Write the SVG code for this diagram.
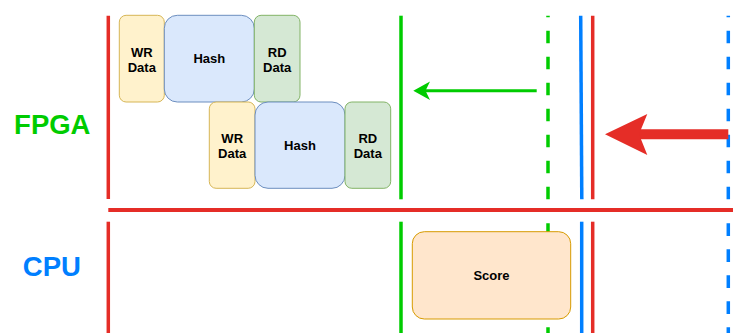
<svg xmlns="http://www.w3.org/2000/svg" width="733" height="333" viewBox="0 0 733 333">
  <style>
    text { font-family: "Liberation Sans", Arial, sans-serif; font-weight: bold; text-anchor: middle; }
    .box { font-size: 13px; fill: #000; }
    .wr { fill: #fff2cc; stroke: #d6b656; stroke-width: 1; }
    .hash { fill: #dae8fc; stroke: #6c8ebf; stroke-width: 1; }
    .rd { fill: #d5e8d4; stroke: #82b366; stroke-width: 1; }
    .score { fill: #ffe6cc; stroke: #d79b00; stroke-width: 1; }
    .red { stroke: #e52d27; fill: none; }
    .green { stroke: #00cc00; fill: none; }
    .blue { stroke: #007fff; fill: none; }
    .v { stroke-width: 3.5; }
    .dash { stroke-dasharray: 12.6 13.4; }
  </style>

  <!-- lane labels -->
  <g id="label-fpga"><text x="52.3" y="134.3" font-size="27.5" fill="#00cc00">FPGA</text></g>
  <g id="label-cpu"><text x="51.8" y="275.7" font-size="27.5" fill="#007fff">CPU</text></g>

  <g id="connectors">
    <!-- timeline markers, FPGA lane -->
    <line class="red v" x1="108.3" y1="15.7" x2="108.3" y2="199"/>
    <line class="green v" x1="401" y1="15.7" x2="401" y2="199.3"/>
    <line class="green v dash" x1="548" y1="15.7" x2="548" y2="199.3" stroke-dashoffset="11"/>
    <line class="blue v" x1="580.7" y1="15.7" x2="581.8" y2="199.3"/>
    <line class="red v" x1="592.7" y1="15.7" x2="592.7" y2="199.3"/>
    <line class="blue v dash" x1="728.3" y1="15.7" x2="728.3" y2="199.3" stroke-dashoffset="11"/>

    <!-- lane divider -->
    <line class="red" stroke-width="4" x1="108.3" y1="210" x2="733" y2="210"/>

    <!-- timeline markers, CPU lane -->
    <line class="red v" x1="108.3" y1="221.7" x2="108.3" y2="333"/>
    <line class="green v" x1="401" y1="221.7" x2="401" y2="333"/>
    <line class="green v dash" x1="548" y1="221.7" x2="548" y2="333" stroke-dashoffset="24.4"/>
    <line class="blue v" x1="581.7" y1="221.7" x2="581.7" y2="333"/>
    <line class="red v" x1="592.7" y1="221.7" x2="592.7" y2="333"/>
    <line class="blue v dash" x1="728.3" y1="221.7" x2="728.3" y2="333" stroke-dashoffset="24.4"/>

    <!-- green arrow -->
    <line class="green" stroke-width="3" x1="536.7" y1="90.7" x2="425" y2="90.7"/>
    <polygon fill="#00cc00" points="413.3,90.7 430,81.5 425.5,90.7 430,99.9"/>

    <!-- red arrow -->
    <line class="red" stroke-width="10" x1="638" y1="134.3" x2="728.3" y2="134.3"/>
    <polygon fill="#e52d27" points="605,134.3 647.3,114 639,134.3 647.3,155"/>
  </g>

  <!-- first pipeline row -->
  <g id="wr-data-1">
    <rect class="wr" x="119.3" y="15.3" width="45" height="86.7" rx="6.8"/>
    <text class="box" x="141.8" y="56.5">WR</text>
    <text class="box" x="141.8" y="71.5">Data</text>
  </g>
  <g id="hash-1">
    <rect class="hash" x="164.3" y="15.3" width="90" height="86.7" rx="13"/>
    <text class="box" x="209.3" y="63.4">Hash</text>
  </g>
  <g id="rd-data-1">
    <rect class="rd" x="254.3" y="15.3" width="45.7" height="86.7" rx="6.8"/>
    <text class="box" x="277.2" y="56.5">RD</text>
    <text class="box" x="277.2" y="71.5">Data</text>
  </g>

  <!-- second pipeline row -->
  <g id="wr-data-2">
    <rect class="wr" x="209.3" y="102" width="45.7" height="86.3" rx="6.8"/>
    <text class="box" x="232.2" y="143">WR</text>
    <text class="box" x="232.2" y="158">Data</text>
  </g>
  <g id="hash-2">
    <rect class="hash" x="255" y="102" width="90" height="86.3" rx="13"/>
    <text class="box" x="300" y="150">Hash</text>
  </g>
  <g id="rd-data-2">
    <rect class="rd" x="345" y="102" width="45.7" height="86.3" rx="6.8"/>
    <text class="box" x="367.8" y="143">RD</text>
    <text class="box" x="367.8" y="158">Data</text>
  </g>

  <!-- CPU work -->
  <g id="score">
    <rect class="score" x="412.3" y="231.7" width="158.4" height="87.3" rx="12"/>
    <text class="box" x="491.5" y="280">Score</text>
  </g>
</svg>
